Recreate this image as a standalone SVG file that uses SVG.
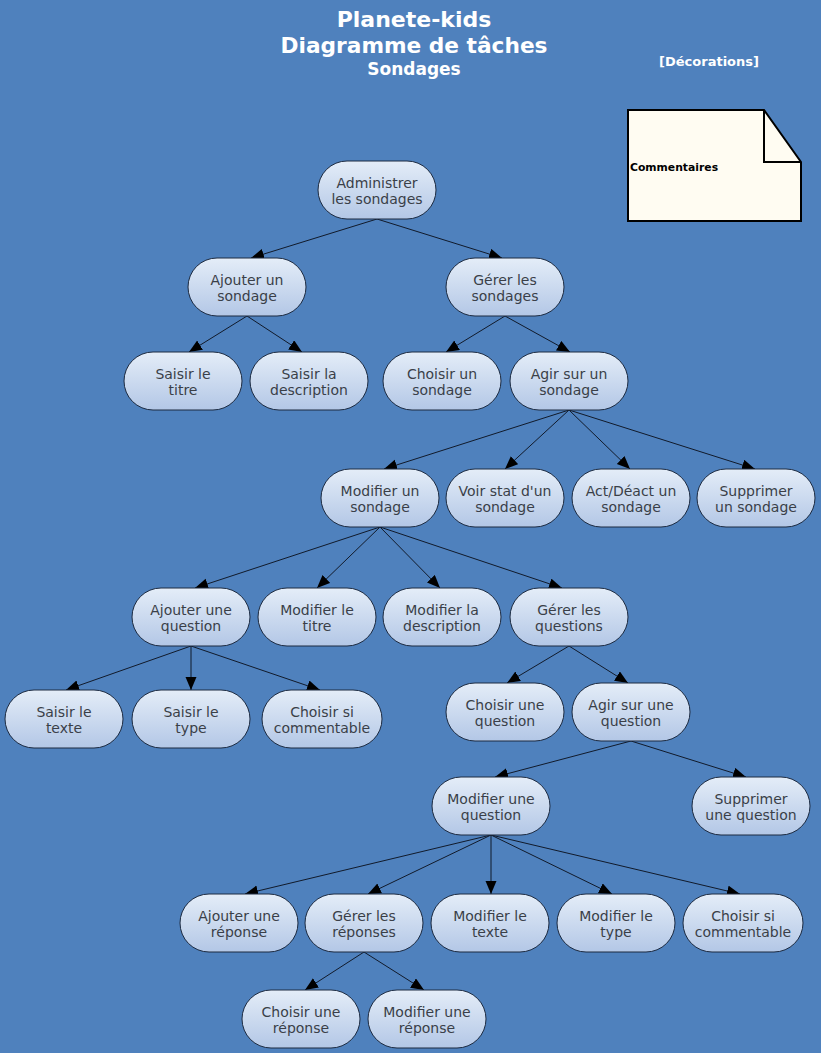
<svg xmlns="http://www.w3.org/2000/svg" width="821" height="1053" viewBox="0 0 821 1053">
<defs>
<linearGradient id="g" x1="0" y1="0" x2="0" y2="1">
<stop offset="0" stop-color="#e4edf8"/>
<stop offset="1" stop-color="#b3c7e6"/>
</linearGradient>
<marker id="a" markerWidth="14" markerHeight="12" refX="13" refY="5.5" orient="auto" markerUnits="userSpaceOnUse">
<path d="M0,0 L13,5.5 L0,11 z" fill="#000"/>
</marker>
<style>
.n rect{fill:url(#g);stroke:#1c2a40;stroke-width:1}
.n text{font-family:"DejaVu Sans",Verdana,sans-serif;font-size:14px;fill:#3a3f48;text-anchor:middle}
#c line{stroke:#111a2a;stroke-width:1;marker-end:url(#a)}
.t{font-family:"DejaVu Sans",Verdana,sans-serif;font-weight:bold;fill:#fff;text-anchor:middle}
</style>
</defs>
<rect width="821" height="1053" fill="#4f81bd"/>
<g id="title">
<text class="t" x="414" y="27" font-size="22">Planete-kids</text>
<text class="t" x="414" y="53" font-size="21.7">Diagramme de tâches</text>
<text class="t" x="414" y="75" font-size="17">Sondages</text>
<text class="t" x="709" y="66" font-size="13">[Décorations]</text>
</g>
<g id="note">
<path d="M628,110 L764,110 L801,162 L801,221 L628,221 Z" fill="#fffcf2" stroke="#000" stroke-width="2"/>
<path d="M764,110 L764,162 L801,162" fill="none" stroke="#000" stroke-width="2"/>
<text x="630" y="171" font-family="'DejaVu Sans',Verdana,sans-serif" font-size="10.8" font-weight="bold" fill="#000">Commentaires</text>
</g>
<g id="c">
<line x1="377" y1="219" x2="251" y2="258"/>
<line x1="377" y1="219" x2="502" y2="258"/>
<line x1="247" y1="316" x2="189" y2="352"/>
<line x1="247" y1="316" x2="302" y2="352"/>
<line x1="505" y1="316" x2="446" y2="352"/>
<line x1="505" y1="316" x2="570" y2="352"/>
<line x1="569" y1="410" x2="384" y2="469"/>
<line x1="569" y1="410" x2="505" y2="469"/>
<line x1="569" y1="410" x2="630" y2="469"/>
<line x1="569" y1="410" x2="755" y2="469"/>
<line x1="380" y1="527" x2="195" y2="588"/>
<line x1="380" y1="527" x2="317" y2="588"/>
<line x1="380" y1="527" x2="440" y2="588"/>
<line x1="380" y1="527" x2="562" y2="588"/>
<line x1="191" y1="646" x2="66" y2="690"/>
<line x1="191" y1="646" x2="191" y2="690"/>
<line x1="191" y1="646" x2="320" y2="690"/>
<line x1="569" y1="646" x2="507" y2="683"/>
<line x1="569" y1="646" x2="628" y2="683"/>
<line x1="631" y1="741" x2="495" y2="777"/>
<line x1="631" y1="741" x2="746" y2="777"/>
<line x1="491" y1="835" x2="245" y2="894"/>
<line x1="491" y1="835" x2="368" y2="894"/>
<line x1="491" y1="835" x2="491" y2="894"/>
<line x1="491" y1="835" x2="612" y2="894"/>
<line x1="491" y1="835" x2="740" y2="894"/>
<line x1="364" y1="952" x2="305" y2="990"/>
<line x1="364" y1="952" x2="424" y2="990"/>
</g>
<g id="n1" class="n"><rect x="318" y="161" width="118" height="58" rx="29"/><text x="377" y="188">Administrer</text><text x="377" y="204">les sondages</text></g>
<g id="n2" class="n"><rect x="188" y="258" width="118" height="58" rx="29"/><text x="247" y="285">Ajouter un</text><text x="247" y="301">sondage</text></g>
<g id="n3" class="n"><rect x="446" y="258" width="118" height="58" rx="29"/><text x="505" y="285">Gérer les</text><text x="505" y="301">sondages</text></g>
<g id="n4" class="n"><rect x="124" y="352" width="118" height="58" rx="29"/><text x="183" y="379">Saisir le</text><text x="183" y="395">titre</text></g>
<g id="n5" class="n"><rect x="250" y="352" width="118" height="58" rx="29"/><text x="309" y="379">Saisir la</text><text x="309" y="395">description</text></g>
<g id="n6" class="n"><rect x="383" y="352" width="118" height="58" rx="29"/><text x="442" y="379">Choisir un</text><text x="442" y="395">sondage</text></g>
<g id="n7" class="n"><rect x="510" y="352" width="118" height="58" rx="29"/><text x="569" y="379">Agir sur un</text><text x="569" y="395">sondage</text></g>
<g id="n8" class="n"><rect x="321" y="469" width="118" height="58" rx="29"/><text x="380" y="496">Modifier un</text><text x="380" y="512">sondage</text></g>
<g id="n9" class="n"><rect x="446" y="469" width="118" height="58" rx="29"/><text x="505" y="496">Voir stat d'un</text><text x="505" y="512">sondage</text></g>
<g id="n10" class="n"><rect x="572" y="469" width="118" height="58" rx="29"/><text x="631" y="496">Act/Déact un</text><text x="631" y="512">sondage</text></g>
<g id="n11" class="n"><rect x="697" y="469" width="118" height="58" rx="29"/><text x="756" y="496">Supprimer</text><text x="756" y="512">un sondage</text></g>
<g id="n12" class="n"><rect x="132" y="588" width="118" height="58" rx="29"/><text x="191" y="615">Ajouter une</text><text x="191" y="631">question</text></g>
<g id="n13" class="n"><rect x="258" y="588" width="118" height="58" rx="29"/><text x="317" y="615">Modifier le</text><text x="317" y="631">titre</text></g>
<g id="n14" class="n"><rect x="383" y="588" width="118" height="58" rx="29"/><text x="442" y="615">Modifier la</text><text x="442" y="631">description</text></g>
<g id="n15" class="n"><rect x="510" y="588" width="118" height="58" rx="29"/><text x="569" y="615">Gérer les</text><text x="569" y="631">questions</text></g>
<g id="n16" class="n"><rect x="5" y="690" width="118" height="58" rx="29"/><text x="64" y="717">Saisir le</text><text x="64" y="733">texte</text></g>
<g id="n17" class="n"><rect x="132" y="690" width="118" height="58" rx="29"/><text x="191" y="717">Saisir le</text><text x="191" y="733">type</text></g>
<g id="n18" class="n"><rect x="262" y="690" width="120" height="58" rx="29"/><text x="322" y="717">Choisir si</text><text x="322" y="733">commentable</text></g>
<g id="n19" class="n"><rect x="446" y="683" width="118" height="58" rx="29"/><text x="505" y="710">Choisir une</text><text x="505" y="726">question</text></g>
<g id="n20" class="n"><rect x="572" y="683" width="118" height="58" rx="29"/><text x="631" y="710">Agir sur une</text><text x="631" y="726">question</text></g>
<g id="n21" class="n"><rect x="432" y="777" width="118" height="58" rx="29"/><text x="491" y="804">Modifier une</text><text x="491" y="820">question</text></g>
<g id="n22" class="n"><rect x="692" y="777" width="118" height="58" rx="29"/><text x="751" y="804">Supprimer</text><text x="751" y="820">une question</text></g>
<g id="n23" class="n"><rect x="180" y="894" width="118" height="58" rx="29"/><text x="239" y="921">Ajouter une</text><text x="239" y="937">réponse</text></g>
<g id="n24" class="n"><rect x="305" y="894" width="118" height="58" rx="29"/><text x="364" y="921">Gérer les</text><text x="364" y="937">réponses</text></g>
<g id="n25" class="n"><rect x="431" y="894" width="118" height="58" rx="29"/><text x="490" y="921">Modifier le</text><text x="490" y="937">texte</text></g>
<g id="n26" class="n"><rect x="557" y="894" width="118" height="58" rx="29"/><text x="616" y="921">Modifier le</text><text x="616" y="937">type</text></g>
<g id="n27" class="n"><rect x="683" y="894" width="120" height="58" rx="29"/><text x="743" y="921">Choisir si</text><text x="743" y="937">commentable</text></g>
<g id="n28" class="n"><rect x="242" y="990" width="118" height="58" rx="29"/><text x="301" y="1017">Choisir une</text><text x="301" y="1033">réponse</text></g>
<g id="n29" class="n"><rect x="368" y="990" width="118" height="58" rx="29"/><text x="427" y="1017">Modifier une</text><text x="427" y="1033">réponse</text></g>
</svg>
